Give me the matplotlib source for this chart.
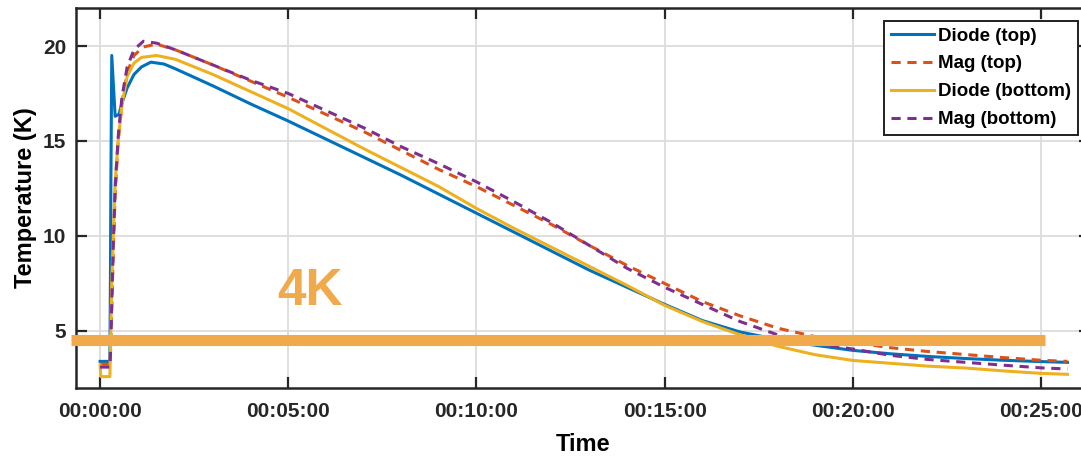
import matplotlib.pyplot as plt
import numpy as np
from matplotlib.ticker import FuncFormatter

plt.rcParams['font.family'] = ['Liberation Sans', 'DejaVu Sans']
plt.rcParams['font.weight'] = 'bold'

# time in minutes since start
t_diode_top = [0, 0.26, 0.275, 0.285, 0.31, 0.40, 0.5, 0.6, 0.72, 0.9, 1.1, 1.35, 1.7, 2,
               3, 4, 5, 6, 7, 8, 9, 10, 11, 12, 13, 14, 15, 16, 17, 18, 19, 20,
               21, 22, 23, 24, 25, 25.7]
diode_top = [3.4, 3.4, 8.0, 12.3, 19.5, 16.3, 16.4, 17.1, 17.8, 18.5, 18.9, 19.15, 19.05, 18.8,
             17.9, 16.95, 16.05, 15.1, 14.15, 13.2, 12.2, 11.2, 10.2, 9.2, 8.2, 7.3, 6.4, 5.55,
             4.95, 4.55, 4.25, 3.98, 3.8, 3.66, 3.55, 3.46, 3.39, 3.35]

t_diode_bot = [0, 0.02, 0.26, 0.28, 0.31, 0.35, 0.40, 0.48, 0.58, 0.72, 0.9, 1.1, 1.5, 2,
               3, 4, 5, 6, 7, 8, 9, 10, 11, 12, 13, 14, 15, 16, 17, 18, 19, 20,
               21, 22, 23, 24, 25, 25.7]
diode_bot = [3.2, 2.6, 2.6, 4.5, 7.5, 10.0, 12.8, 15.0, 16.9, 18.4, 19.1, 19.4, 19.5, 19.3,
             18.5, 17.6, 16.7, 15.65, 14.6, 13.6, 12.6, 11.45, 10.4, 9.4, 8.4, 7.4, 6.35, 5.5,
             4.8, 4.2, 3.75, 3.45, 3.3, 3.15, 3.05, 2.9, 2.77, 2.72]

t_mag = [0, 0.26, 0.28, 0.31, 0.35, 0.40, 0.48, 0.58, 0.72, 0.9, 1.15, 1.5, 2,
         3, 4, 5, 6, 7, 8, 9, 10, 11, 12, 13, 14, 15, 16, 17, 18, 19, 20,
         21, 22, 23, 24, 25, 25.7]
mag_top = [3.25, 3.25, 4.0, 6.2, 9.2, 12.2, 15.0, 17.0, 18.6, 19.5, 19.95, 20.1, 19.8,
           19.0, 18.15, 17.3, 16.4, 15.5, 14.5, 13.5, 12.6, 11.6, 10.6, 9.5, 8.45, 7.5, 6.55,
           5.8, 5.15, 4.7, 4.4, 4.12, 3.92, 3.76, 3.6, 3.46, 3.4]
mag_bot = [3.1, 3.1, 4.0, 6.5, 9.5, 12.5, 15.2, 17.3, 18.9, 19.8, 20.25, 20.15, 19.8,
           19.0, 18.2, 17.5, 16.6, 15.7, 14.7, 13.8, 12.85, 11.8, 10.7, 9.5, 8.3, 7.3, 6.4,
           5.5, 4.8, 4.35, 4.05, 3.72, 3.5, 3.35, 3.2, 3.06, 3.0]

labels = ['Diode (top)', 'Mag (top)', 'Diode (bottom)', 'Mag (bottom)']
colors = ['#0072BD', '#D95319', '#EDB120', '#7E2F8E']

x_ticks = [0, 5, 10, 15, 20, 25]
y_ticks = [5, 10, 15, 20]

# the 4K marker line
fourk_level = 4.55
fourk_start, fourk_end = -0.78, 25.1
orange = '#F0AA4C'


def fmt_time(v, pos):
    m = int(round(v))
    return f'{m // 60:02d}:{m % 60:02d}:00'


def main():
    fig = plt.figure(figsize=(10.81, 4.57), dpi=100)
    ax = fig.add_axes([76 / 1081, 1 - 388 / 457, (1090 - 76) / 1081, (388 - 8) / 457])
    draw(ax, fig)
    plt.savefig('out.png', dpi=100)
    return


def draw(ax, fig):
    dash = (0, (3, 2.2))
    ax.plot(t_diode_top, diode_top, color=colors[0], lw=2.2, label=labels[0])
    ax.plot(t_mag, mag_top, color=colors[1], lw=2.2, ls=dash, label=labels[1])
    ax.plot(t_diode_bot, diode_bot, color=colors[2], lw=2.2, label=labels[2])
    ax.plot(t_mag, mag_bot, color=colors[3], lw=2.2, ls=dash, label=labels[3])

    ax.plot([fourk_start, fourk_end], [fourk_level, fourk_level], color=orange, lw=8,
            solid_capstyle='butt', clip_on=False, zorder=5)
    ax.text(4.7, 7.1, '4K', color=orange, fontsize=37, fontweight='bold',
            ha='left', va='center', zorder=6)

    ax.set_xlim(-0.64, 26.3)
    ax.set_ylim(2, 22)
    ax.set_xticks(x_ticks)
    ax.set_yticks(y_ticks)
    ax.xaxis.set_major_formatter(FuncFormatter(fmt_time))

    ax.grid(True, color='#dcdcdc', lw=1.3)
    ax.set_axisbelow(True)
    for s in ax.spines.values():
        s.set_linewidth(1.8)
        s.set_color('#262626')
    ax.tick_params(direction='in', length=8, width=1.6, top=True, right=True,
                   labelsize=15, colors='#262626', pad=10)
    ax.tick_params(axis='y', labelsize=15, pad=7)

    ax.set_xlabel('Time', fontsize=17, fontweight='bold', labelpad=9)
    ax.set_ylabel('Temperature (K)', fontsize=17, fontweight='bold', labelpad=4)

    leg = ax.legend(loc='upper right', bbox_to_anchor=(1078 / 1081, 1 - 21 / 457),
                    bbox_transform=fig.transFigure, borderaxespad=0, fancybox=False,
                    framealpha=1, edgecolor='#202020', fontsize=13.5, handlelength=2.3,
                    handletextpad=0.25, labelspacing=0.57, borderpad=0.35)
    leg.get_frame().set_linewidth(1.4)
    return ax


if __name__ == '__main__':
    main()
